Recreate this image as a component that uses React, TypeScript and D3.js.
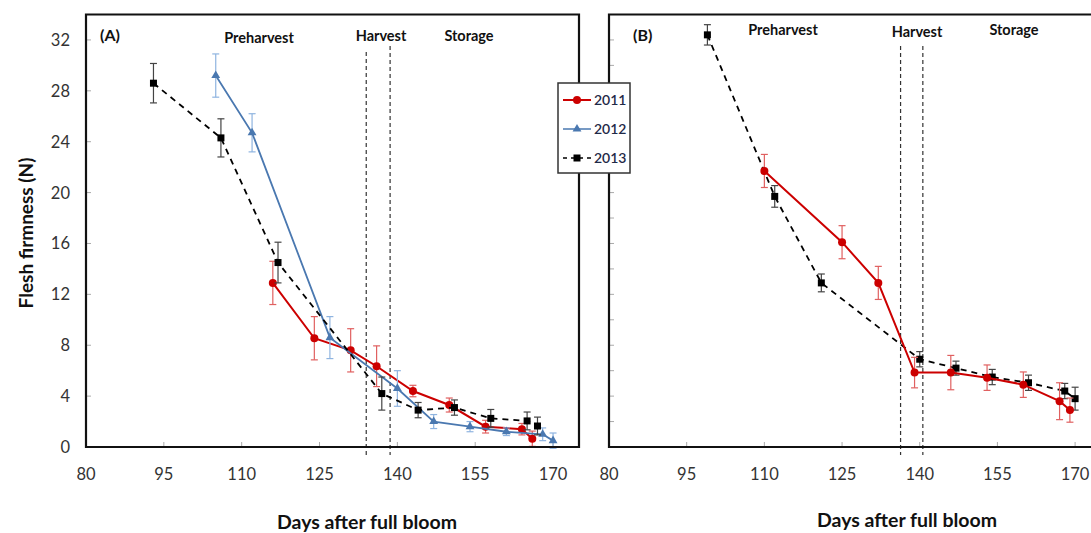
import React from "react";
import * as d3 from "d3";

// Shared axis ticks
const xTickValues = [80, 95, 110, 125, 140, 155, 170];
const yTickValuesA = [0, 4, 8, 12, 16, 20, 24, 28, 32];
const yTickValuesB = [0, 2, 4, 6, 8, 10, 12, 14, 16, 18, 20, 22, 24, 26, 28, 30, 32];

// Panel (A)
const a2011Days = [116, 124, 131, 136, 143, 150, 157, 164, 166];
const a2011Firmness = [12.9, 8.55, 7.6, 6.35, 4.4, 3.3, 1.6, 1.4, 0.65];
const a2011Err = [1.7, 1.7, 1.7, 1.6, 0.45, 0.55, 0.5, 0.45, 0.6];

const a2012Days = [105, 112, 127, 140, 147, 154, 161, 168, 170];
const a2012Firmness = [29.2, 24.7, 8.6, 4.6, 2.0, 1.6, 1.2, 1.0, 0.5];
const a2012Err = [1.7, 1.5, 1.65, 1.4, 0.55, 0.4, 0.3, 0.5, 0.6];

const a2013Days = [93, 106, 117, 137, 144, 151, 158, 165, 167];
const a2013Firmness = [28.6, 24.3, 14.5, 4.2, 2.9, 3.1, 2.25, 2.05, 1.65];
const a2013Err = [1.55, 1.5, 1.6, 1.3, 0.6, 0.6, 0.7, 0.7, 0.7];

const aHarvestDays = [134, 138.6];

// Panel (B)
const b2011Days = [110, 125, 132, 139, 146, 153, 160, 167, 169];
const b2011Firmness = [21.7, 16.1, 12.9, 5.85, 5.85, 5.45, 4.9, 3.6, 2.9];
const b2011Err = [1.3, 1.3, 1.3, 1.2, 1.35, 1.0, 1.0, 1.45, 0.95];

const b2013Days = [99, 112, 121, 140, 147, 154, 161, 168, 170];
const b2013Firmness = [32.4, 19.7, 12.9, 6.9, 6.2, 5.5, 5.05, 4.4, 3.8];
const b2013Err = [0.8, 0.85, 0.7, 0.6, 0.55, 0.6, 0.6, 0.6, 0.9];

const bHarvestDays = [136.3, 140.6];

const legendYears = ["2011", "2012", "2013"];

const RED = "#cc0000";
const RED_ERR = "#e06060";
const BLUE = "#4a78b0";
const BLUE_ERR = "#8fb4e0";
const BLACK = "#000000";
const BLACK_ERR = "#444444";
const FONT = "Lato, 'Open Sans', sans-serif";

type Series = {
  days: number[];
  vals: number[];
  errs: number[];
  color: string;
  errColor: string;
  marker: "circle" | "triangle" | "square";
  dash?: string;
  width: number;
};

type Phase = { text: string; x: number; y: number };

const series = (
  days: number[],
  vals: number[],
  errs: number[],
  color: string,
  errColor: string,
  marker: Series["marker"],
  width: number,
  dash?: string
): Series => ({ days, vals, errs, color, errColor, marker, width, dash });

function Marker({ kind, x, y, color }: { kind: Series["marker"]; x: number; y: number; color: string }) {
  if (kind === "circle") return <circle cx={x} cy={y} r={4} fill={color} />;
  if (kind === "triangle") {
    const p = d3.symbol().type(d3.symbolTriangle).size(34)();
    return <path d={p || ""} transform={`translate(${x},${y})`} fill={color} />;
  }
  return <rect x={x - 3.5} y={y - 3.5} width={7} height={7} fill={color} />;
}

function Panel({
  x0,
  x1,
  label,
  labelX,
  list,
  harvest,
  harvestTop,
  yTicks,
  showYLabels,
  phases,
  xTitleX,
  xTitleY,
}: {
  x0: number;
  x1: number;
  label: string;
  labelX: number;
  list: Series[];
  harvest: number[];
  harvestTop: number[];
  yTicks: number[];
  showYLabels: boolean;
  phases: Phase[];
  xTitleX: number;
  xTitleY: number;
}) {
  const x = d3.scaleLinear().domain([80, 175]).range([x0, x1]);
  const y = d3.scaleLinear().domain([0, 34]).range([447, 14.5]);
  const bottom = y(0);
  const top = y(34);

  return (
    <g>
      {/* inner tick marks */}
      {yTicks.map((t) => (
        <line key={"yt" + t} x1={x0} x2={x0 + 5} y1={y(t)} y2={y(t)} stroke="#aaa" strokeWidth={1} />
      ))}
      {xTickValues.map((t) => (
        <line key={"xt" + t} x1={x(t)} x2={x(t)} y1={bottom} y2={bottom - 5} stroke="#aaa" strokeWidth={1} />
      ))}

      {/* harvest window */}
      {harvest.map((h, i) => (
        <line
          key={"h" + i}
          x1={x(h)}
          x2={x(h)}
          y1={harvestTop[i]}
          y2={bottom + 8}
          stroke="#333"
          strokeWidth={1.2}
          strokeDasharray="4,3"
        />
      ))}

      {/* series */}
      {list.map((s, si) => {
        const pts = s.days.map((d, i) => [x(d), y(s.vals[i])] as [number, number]);
        const line = d3.line()(pts) || "";
        return (
          <g key={"s" + si}>
            {s.days.map((d, i) => {
              const cx = x(d);
              const yt = y(s.vals[i] + s.errs[i]);
              const yb = y(s.vals[i] - s.errs[i]);
              return (
                <g key={"e" + i} stroke={s.errColor} strokeWidth={1.2}>
                  <line x1={cx} x2={cx} y1={yt} y2={yb} />
                  <line x1={cx - 3.5} x2={cx + 3.5} y1={yt} y2={yt} />
                  <line x1={cx - 3.5} x2={cx + 3.5} y1={yb} y2={yb} />
                </g>
              );
            })}
            <path d={line} fill="none" stroke={s.color} strokeWidth={s.width} strokeDasharray={s.dash} />
            {pts.map(([px, py], i) => (
              <Marker key={"m" + i} kind={s.marker} x={px} y={py} color={s.color} />
            ))}
          </g>
        );
      })}

      {/* frame */}
      <path
        d={`M${x0},${top} L${x1},${top} L${x1},${bottom} L${x0},${bottom} Z`}
        fill="none"
        stroke="#111"
        strokeWidth={2.2}
      />

      {/* tick labels */}
      {xTickValues.map((t) => (
        <text key={"xl" + t} x={x(t)} y={480} textAnchor="middle" fontSize={16.5} fill="#333" fontFamily={FONT}>
          {t}
        </text>
      ))}
      {showYLabels &&
        yTicks.map((t) => (
          <text key={"yl" + t} x={x0 - 16} y={y(t) + 6} textAnchor="end" fontSize={16.5} fill="#333" fontFamily={FONT}>
            {t}
          </text>
        ))}

      {/* panel letter and phase labels */}
      <text x={labelX} y={41} fontSize={16} fontWeight="bold" fill="#111" fontFamily={FONT}>
        {label}
      </text>
      {phases.map((p) => (
        <text key={p.text} x={p.x} y={p.y} textAnchor="middle" fontSize={14.5} fontWeight="bold" fill="#111" fontFamily={FONT}>
          {p.text}
        </text>
      ))}

      <text x={xTitleX} y={xTitleY} textAnchor="middle" fontSize={19.5} fontWeight="bold" fill="#111" fontFamily={FONT}>
        Days after full bloom
      </text>
    </g>
  );
}

export default function App() {
  const panelA = [
    series(a2011Days, a2011Firmness, a2011Err, RED, RED_ERR, "circle", 2),
    series(a2012Days, a2012Firmness, a2012Err, BLUE, BLUE_ERR, "triangle", 1.8),
    series(a2013Days, a2013Firmness, a2013Err, BLACK, BLACK_ERR, "square", 1.8, "6,5"),
  ];
  const panelB = [
    series(b2013Days, b2013Firmness, b2013Err, BLACK, BLACK_ERR, "square", 1.8, "6,5"),
    series(b2011Days, b2011Firmness, b2011Err, RED, RED_ERR, "circle", 2),
  ];

  const legendColors = [RED, BLUE, BLACK];
  const legendMarkers: Series["marker"][] = ["circle", "triangle", "square"];
  const legendDash = [undefined, undefined, "4,4"];
  const legendY = d3.scalePoint<string>().domain(legendYears).range([100, 158]);

  return (
    <svg
      width={1091}
      height={533}
      style={{ position: "absolute", left: 0, top: 0, background: "#fff" }}
    >
      <rect width={1091} height={533} fill="#fff" />
      <Panel
        x0={86}
        x1={579}
        label="(A)"
        labelX={100}
        list={panelA}
        harvest={aHarvestDays}
        harvestTop={[52, 46]}
        yTicks={yTickValuesA}
        showYLabels={true}
        phases={[
          { text: "Preharvest", x: 259, y: 43 },
          { text: "Harvest", x: 381, y: 41 },
          { text: "Storage", x: 469, y: 41 },
        ]}
        xTitleX={367}
        xTitleY={529}
      />
      <Panel
        x0={609}
        x1={1101}
        label="(B)"
        labelX={633}
        list={panelB}
        harvest={bHarvestDays}
        harvestTop={[46, 46]}
        yTicks={yTickValuesB}
        showYLabels={false}
        phases={[
          { text: "Preharvest", x: 783, y: 35 },
          { text: "Harvest", x: 917, y: 37 },
          { text: "Storage", x: 1014, y: 35 },
        ]}
        xTitleX={907}
        xTitleY={527}
      />

      {/* y-axis title */}
      <text
        transform="translate(33,233) rotate(-90)"
        textAnchor="middle"
        fontSize={19}
        fontWeight="bold"
        fill="#111"
        fontFamily={FONT}
      >
        Flesh firmness (N)
      </text>

      {/* legend */}
      <rect x={558} y={83} width={72} height={90} fill="#fff" stroke="#333" strokeWidth={1.5} />
      {legendYears.map((yr, i) => {
        const ly = legendY(yr) || 0;
        return (
          <g key={yr}>
            <line
              x1={563}
              x2={591}
              y1={ly}
              y2={ly}
              stroke={legendColors[i]}
              strokeWidth={i === 0 ? 2 : 1.5}
              strokeDasharray={legendDash[i]}
            />
            <Marker kind={legendMarkers[i]} x={577} y={ly} color={legendColors[i]} />
            <text x={594} y={ly + 5} fontSize={14} fontWeight={600} fill="#1f2a48" fontFamily={FONT}>
              {yr}
            </text>
          </g>
        );
      })}
    </svg>
  );
}
